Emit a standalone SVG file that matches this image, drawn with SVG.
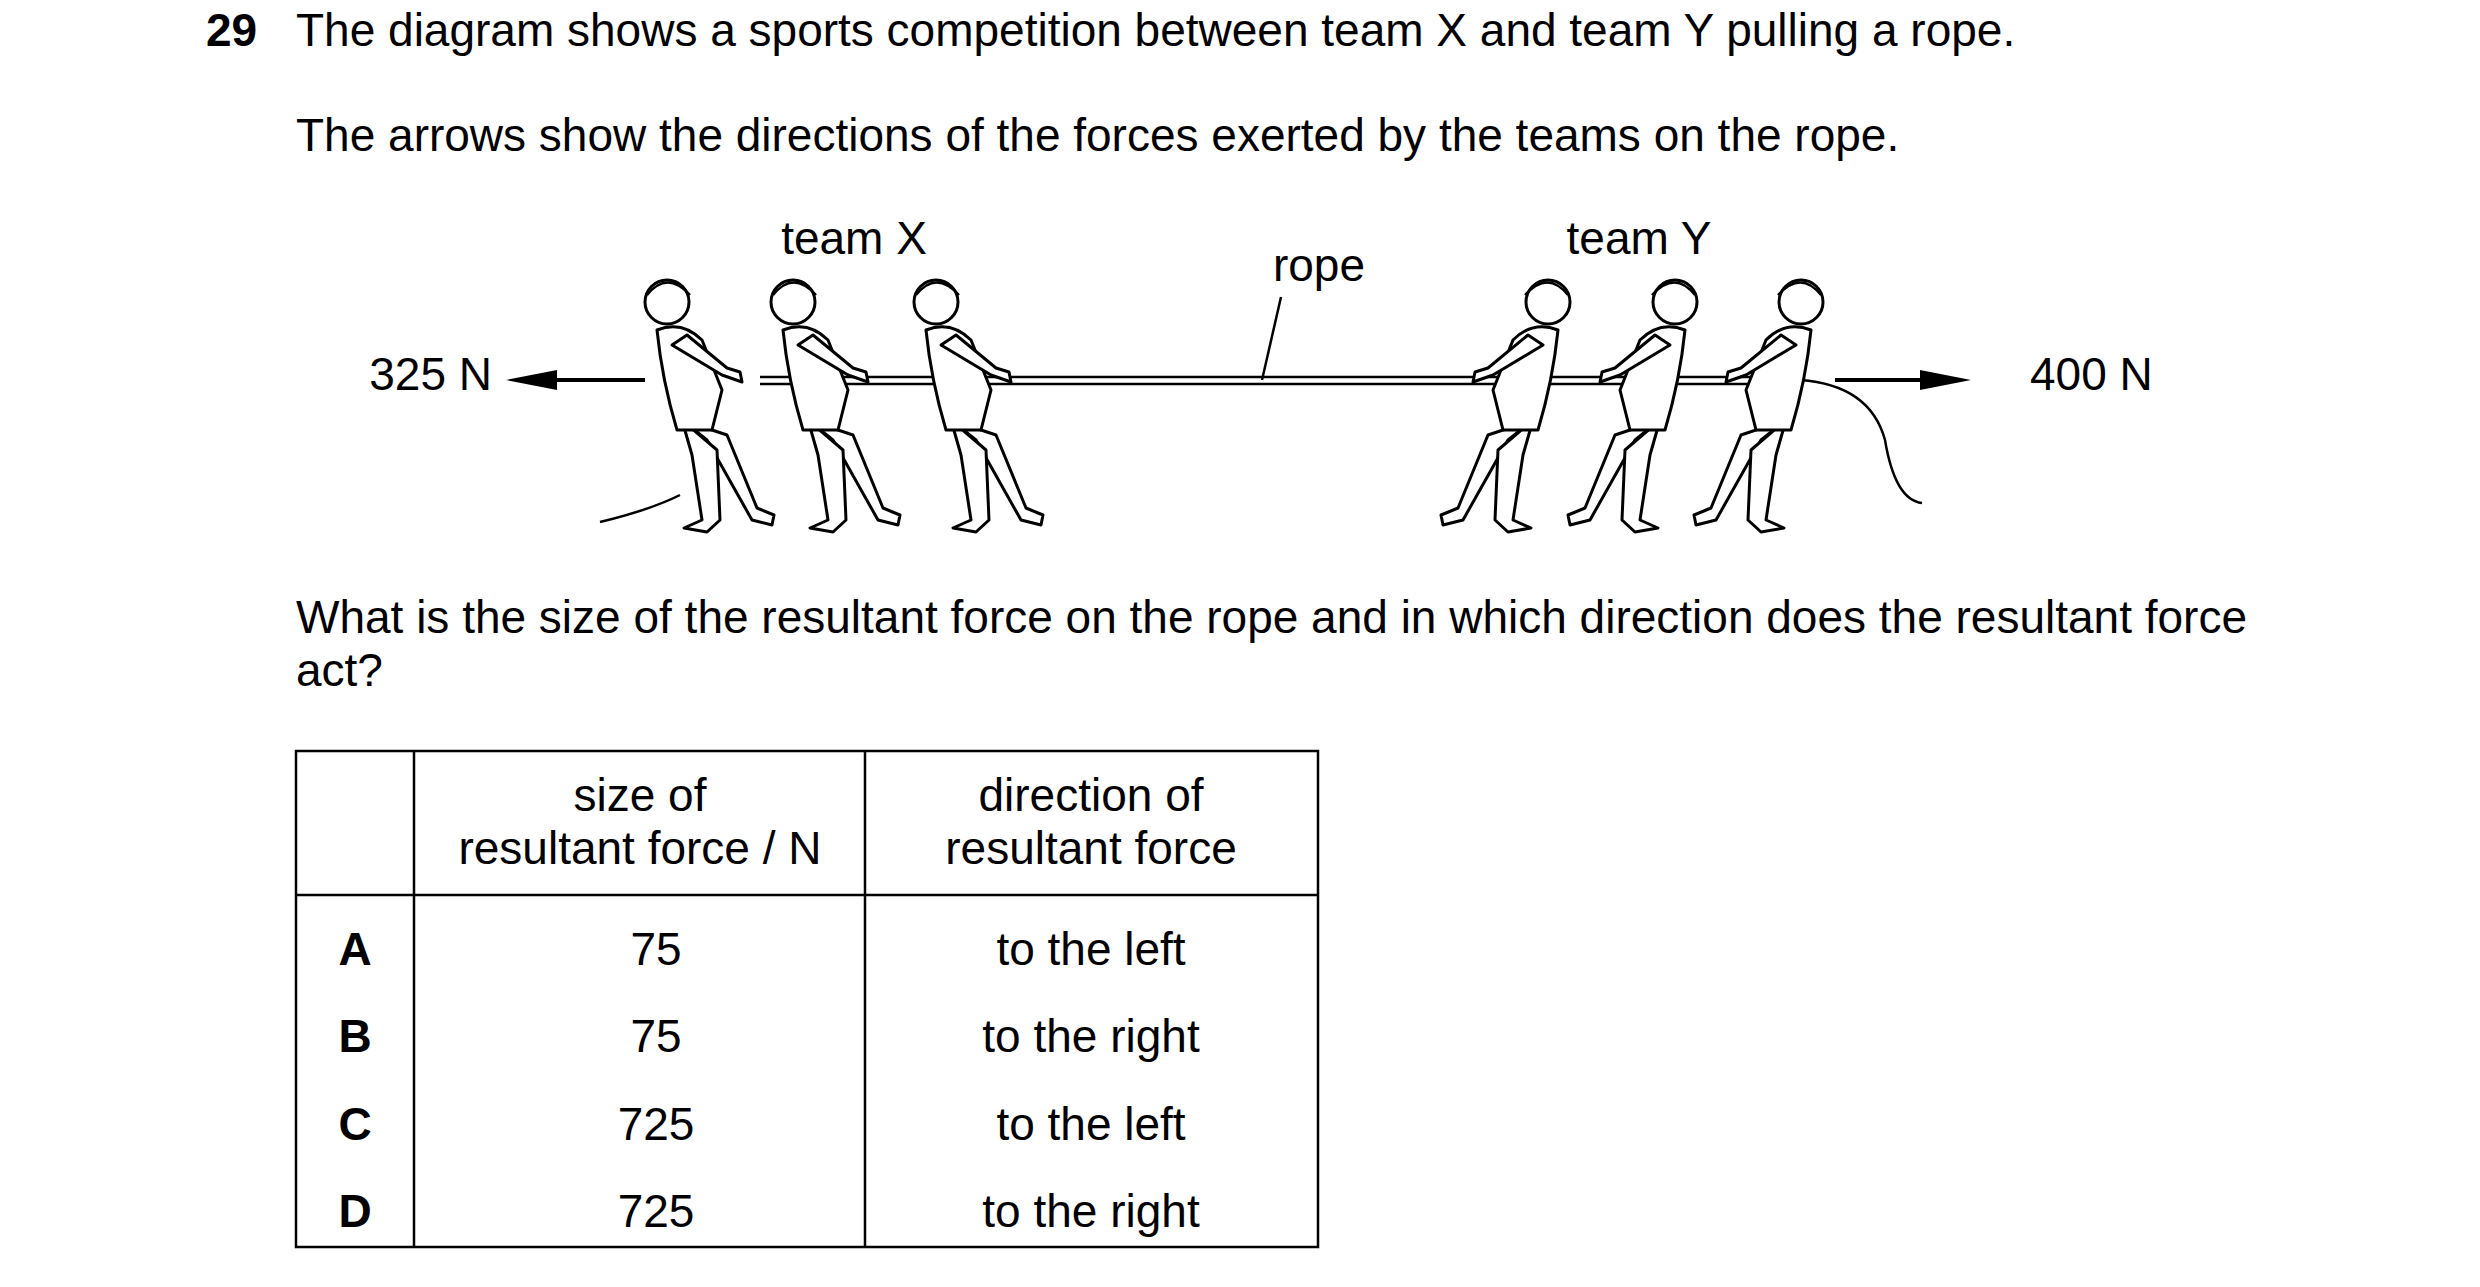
<svg xmlns="http://www.w3.org/2000/svg" width="2480" height="1287" viewBox="0 0 2480 1287">
<style>
text{font-family:"Liberation Sans",Arial,sans-serif;font-size:46px;fill:#000}
.c{text-anchor:middle}
.b{font-weight:bold}
.ln{stroke:#000;stroke-width:2.5;fill:none}
.fig{stroke:#000;stroke-width:3;fill:#fff;stroke-linejoin:round;stroke-linecap:round}
</style>
<defs>
<g id="person">
<path class="fig" d="M-30,40 L-5,60 L40,140 L60,145 L62,135 L45,128 L15,55 Z"/>
<path class="fig" d="M-30,40 L-20,75 L-10,140 L-28,148 L-5,152 L8,140 L5,70 Z"/>
<path class="fig" d="M-55,-50 Q-30,-60 -10,-40 L10,10 L0,50 L-35,50 Q-50,0 -55,-50 Z"/>
<path class="fig" d="M-40,-35 L10,-5 L30,2 L28,-8 L15,-12 L-25,-45 Z"/>
<circle class="fig" cx="-45" cy="-78" r="22"/>
<path class="ln" d="M-65,-85 Q-45,-110 -22,-85"/>
</g>
</defs>
<text class="b" x="206" y="46">29</text>
<text x="296" y="46">The diagram shows a sports competition between team X and team Y pulling a rope.</text>
<text x="296" y="151">The arrows show the directions of the forces exerted by the teams on the rope.</text>
<text class="c" x="854" y="254">team X</text>
<text class="c" x="1319" y="281">rope</text>
<text class="c" x="1639" y="254">team Y</text>
<text x="492" y="390" text-anchor="end">325 N</text>
<text x="2030" y="390">400 N</text>
<g id="scene">
<path class="ln" d="M600,522 Q650,510 680,495"/>
<path class="ln" d="M1800,380 Q1870,385 1885,440 Q1895,500 1922,503"/>
<path class="ln" d="M760,377 L1803,377 M760,384 L1803,384"/>
<use href="#person" x="712" y="380"/>
<use href="#person" x="838" y="380"/>
<use href="#person" x="981" y="380"/>
<use href="#person" transform="translate(1503,380) scale(-1,1)"/>
<use href="#person" transform="translate(1630,380) scale(-1,1)"/>
<use href="#person" transform="translate(1756,380) scale(-1,1)"/>
</g>
<g id="connectors">
<line x1="645" y1="380" x2="550" y2="380" stroke="#000" stroke-width="4"/>
<polygon points="506,380 557,370 557,390" fill="#000"/>
<line x1="1835" y1="380" x2="1930" y2="380" stroke="#000" stroke-width="4"/>
<polygon points="1971,380 1920,370 1920,390" fill="#000"/>
<line class="ln" x1="1281" y1="297" x2="1262" y2="380"/>
</g>
<text x="296" y="633">What is the size of the resultant force on the rope and in which direction does the resultant force</text>
<text x="296" y="686">act?</text>
<g id="table">
<rect x="296" y="751" width="1022" height="496" fill="none" stroke="#000" stroke-width="2.5"/>
<line class="ln" x1="414" y1="751" x2="414" y2="1247"/>
<line class="ln" x1="865" y1="751" x2="865" y2="1247"/>
<line class="ln" x1="296" y1="895" x2="1318" y2="895"/>
<text class="c" x="640" y="811">size of</text>
<text class="c" x="640" y="864">resultant force / N</text>
<text class="c" x="1091" y="811">direction of</text>
<text class="c" x="1091" y="864">resultant force</text>
<text class="c b" x="355" y="965">A</text>
<text class="c b" x="355" y="1052">B</text>
<text class="c b" x="355" y="1140">C</text>
<text class="c b" x="355" y="1227">D</text>
<text class="c" x="656" y="965">75</text>
<text class="c" x="656" y="1052">75</text>
<text class="c" x="656" y="1140">725</text>
<text class="c" x="656" y="1227">725</text>
<text class="c" x="1091" y="965">to the left</text>
<text class="c" x="1091" y="1052">to the right</text>
<text class="c" x="1091" y="1140">to the left</text>
<text class="c" x="1091" y="1227">to the right</text>
</g>
</svg>
